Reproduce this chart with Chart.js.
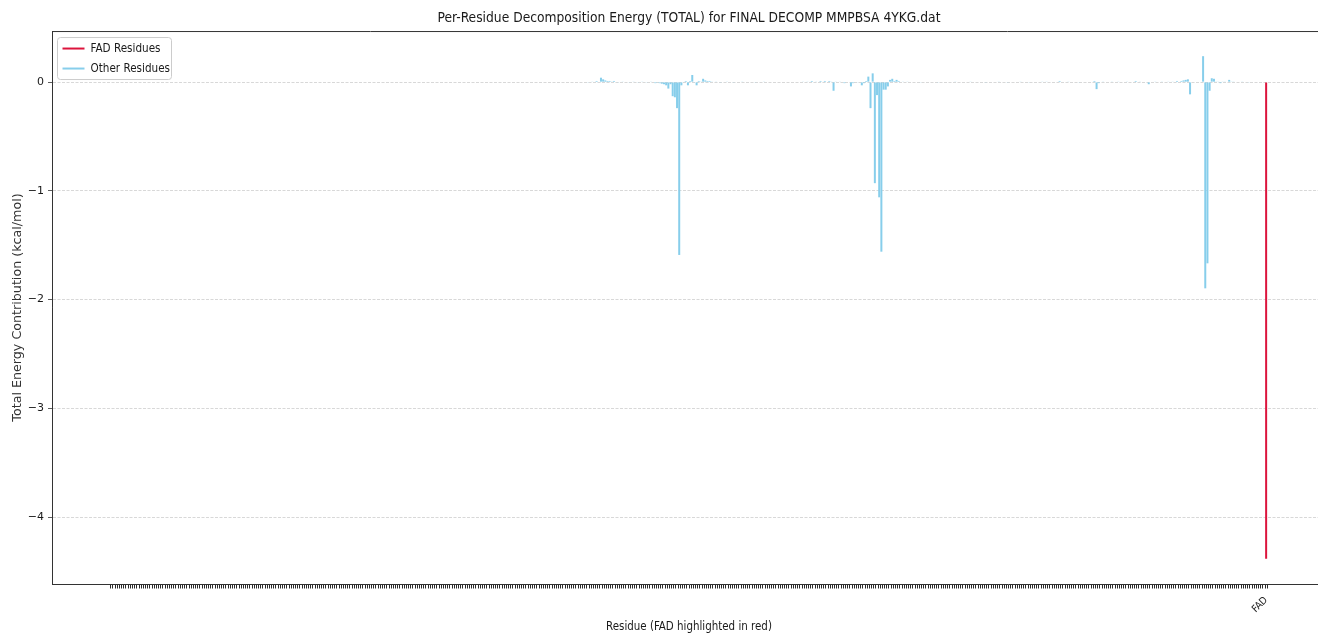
<!DOCTYPE html>
<html>
<head>
<meta charset="utf-8">
<script src="https://cdn.jsdelivr.net/npm/chart.js@4.4.1/dist/chart.umd.min.js"></script>
<style>
  html, body { margin: 0; padding: 0; background: #ffffff; overflow: hidden; }
  #wrap { width: 1318px; height: 634px; overflow: hidden; position: relative; }
  canvas { display: block; }
</style>
</head>
<body>
<div id="wrap"><canvas id="chart" width="1330" height="634"></canvas></div>
<script>
// Per-residue TOTAL decomposition energies (kcal/mol).
// Protein residues are numbered by position 0..proteinCount-1; the ligand (FAD) follows last.
const proteinCount = 531;
const ligandLabel = 'FAD';
const ligandEnergy = [-4.385];

// Residues with a non-zero contribution: position and energy.
const contactIndex = [
  219, 221, 223, 225, 226, 227, 228, 229, 230, 231, 233, 235, 238, 240, 242, 244, 246, 248,
  250, 251, 252, 253, 254, 255, 256, 257, 258, 259, 260, 261, 262, 264, 265, 266, 267, 268,
  269, 270, 271, 272, 273, 274, 275, 276, 278, 280, 283, 286, 290, 296, 300,
  318, 320, 322, 324, 326, 328, 330, 331, 332, 333, 335, 337, 340, 341, 343, 345, 346, 347,
  348, 349, 350, 351, 352, 353, 354, 355, 356, 357, 358, 359, 360, 361, 362, 364, 366,
  372, 380, 388, 395, 402, 408, 412, 418, 422, 428, 430, 436, 440, 445,
  452, 453, 454, 456, 460, 463, 467, 471, 473, 477, 480, 483, 486, 488, 490, 492, 493, 494,
  495, 496, 502, 503, 504, 505, 506, 507, 508, 509, 510, 511, 512, 514, 515, 516, 520, 523
];
const contactEnergy = [
  -0.005, 0.005, 0.01, 0.04, 0.025, 0.015, 0.01, 0.01, 0.005, 0.01, -0.005, 0.005, -0.005, 0.005, -0.005, 0.005, -0.005, 0.005,
  -0.01, -0.005, -0.01, -0.015, -0.02, -0.03, -0.06, -0.02, -0.13, -0.14, -0.24, -1.59, -0.03, 0.01, -0.03, 0.01, 0.065, -0.005,
  -0.03, 0.01, 0.005, 0.03, 0.015, 0.01, 0.01, 0.005, 0.005, -0.005, 0.005, -0.005, 0.005, -0.005, 0.005,
  0.005, 0.005, 0.01, 0.005, 0.01, 0.01, 0.01, 0.005, -0.08, 0.005, 0.005, -0.01, -0.04, -0.01, -0.005, -0.03, -0.01, 0.01,
  0.05, -0.24, 0.08, -0.93, -0.12, -1.06, -1.56, -0.07, -0.07, -0.04, 0.02, 0.03, 0.01, 0.02, 0.01, 0.005, 0.005,
  -0.005, -0.005, 0.005, 0.005, -0.005, 0.005, -0.005, 0.005, -0.005, 0.005, 0.005, 0.01, 0.005, -0.005,
  0.01, -0.065, -0.01, 0.005, 0.005, 0.005, 0.005, 0.01, 0.005, -0.02, 0.005, 0.005, 0.005, 0.005, 0.01, 0.01, 0.015, 0.02,
  0.025, -0.113, 0.238, -1.897, -1.667, -0.08, 0.035, 0.03, 0.005, 0.005, -0.01, 0.005, 0.005, 0.02, 0.005, 0.005, 0.005, -0.005
];

const yTickValues = [-4, -3, -2, -1, 0];

const titleText = 'Per-Residue Decomposition Energy (TOTAL) for FINAL DECOMP MMPBSA 4YKG.dat';
const xTitle = 'Residue (FAD highlighted in red)';
const yTitle = 'Total Energy Contribution (kcal/mol)';
const seriesNames = ['FAD Residues', 'Other Residues'];
const seriesColors = ['#dc143c', '#87ceeb'];

// ---- build datasets ----
const residueCount = proteinCount + ligandEnergy.length;
const energyByIndex = new Map(contactIndex.map((idx, k) => [idx, contactEnergy[k]]));
const otherData = [];
for (let i = 0; i < proteinCount; i++) {
  otherData.push({ x: i, y: energyByIndex.has(i) ? energyByIndex.get(i) : 0 });
}
const fadData = ligandEnergy.map((v, k) => ({ x: proteinCount + k, y: v }));

// Axis limits with 5% padding around the data, like a categorical bar plot.
const halfBar = 0.4;
const span = (residueCount - 1) + 2 * halfBar;
const xMin = -halfBar - 0.05 * span;
const xMax = (residueCount - 1) + halfBar + 0.05 * span;
const allVals = otherData.map(d => d.y).concat(ligandEnergy);
const vMin = Math.min(...allVals), vMax = Math.max(...allVals);
const yMin = vMin - 0.05 * (vMax - vMin);
const yMax = vMax + 0.05 * (vMax - vMin);

const condensed = "'DejaVu Sans Condensed', 'Liberation Sans Narrow', 'DejaVu Sans', sans-serif";
const regular = "'DejaVu Sans', sans-serif";

const fmtMinus = v => (v < 0 ? '\u2212' + Math.abs(v) : String(v));

// Remaining spines (top / right) and the in-axes legend box.
const framePlugin = {
  id: 'frame',
  afterDraw(chart) {
    const { ctx, chartArea: a } = chart;
    ctx.save();
    ctx.strokeStyle = '#333333';
    ctx.lineWidth = 1;
    ctx.beginPath();
    ctx.moveTo(a.left, a.top + 0.5);
    ctx.lineTo(a.right, a.top + 0.5);
    ctx.lineTo(a.right, a.bottom);
    ctx.stroke();

    // legend
    const bx = a.left + 5.5, by = a.top + 6.5, bw = 114, bh = 42, r = 3;
    ctx.beginPath();
    ctx.moveTo(bx + r, by);
    ctx.arcTo(bx + bw, by, bx + bw, by + bh, r);
    ctx.arcTo(bx + bw, by + bh, bx, by + bh, r);
    ctx.arcTo(bx, by + bh, bx, by, r);
    ctx.arcTo(bx, by, bx + bw, by, r);
    ctx.closePath();
    ctx.fillStyle = 'rgba(255,255,255,0.8)';
    ctx.fill();
    ctx.strokeStyle = '#cccccc';
    ctx.lineWidth = 1;
    ctx.stroke();
    ctx.font = '11.6px ' + condensed;
    ctx.textBaseline = 'middle';
    ctx.textAlign = 'left';
    seriesNames.forEach((name, k) => {
      const ly = by + 11 + k * 20;
      ctx.strokeStyle = seriesColors[k];
      ctx.lineWidth = 2;
      ctx.beginPath();
      ctx.moveTo(bx + 5, ly);
      ctx.lineTo(bx + 27, ly);
      ctx.stroke();
      ctx.fillStyle = '#1a1a1a';
      ctx.fillText(name, bx + 33, ly);
    });
    ctx.restore();
  }
};

new Chart(document.getElementById('chart'), {
  type: 'bar',
  data: {
    datasets: [
      { label: seriesNames[0], data: fadData, backgroundColor: seriesColors[0], grouped: false },
      { label: seriesNames[1], data: otherData, backgroundColor: seriesColors[1], grouped: false }
    ]
  },
  options: {
    responsive: false,
    animation: false,
    events: [],
    layout: { padding: { left: 0, right: 4, top: 0, bottom: 0 } },
    datasets: { bar: { barPercentage: 0.92, categoryPercentage: 1.0, borderWidth: 0 } },
    plugins: {
      legend: { display: false },
      tooltip: { enabled: false },
      title: {
        display: true,
        fullSize: false,
        text: titleText,
        color: '#1a1a1a',
        font: { family: condensed, size: 13.7, weight: 'normal' },
        padding: { top: 10, bottom: 4.6 }
      }
    },
    scales: {
      x: {
        type: 'linear',
        min: xMin,
        max: xMax,
        afterBuildTicks: s => { s.ticks = otherData.concat(fadData).map(d => ({ value: d.x })); },
        afterFit: s => { s.height = 50; },
        ticks: {
          autoSkip: false,
          minRotation: 45,
          maxRotation: 45,
          padding: 6,
          color: '#1a1a1a',
          font: { family: condensed, size: 10 },
          callback: v => (v === residueCount - 1 ? ligandLabel : '')
        },
        grid: { drawOnChartArea: false, drawTicks: true, tickLength: 4.5, tickColor: '#2a2a2a', tickWidth: 1 },
        border: { display: true, color: '#333333', width: 1 },
        title: {
          display: true,
          text: xTitle,
          color: '#1a1a1a',
          font: { family: condensed, size: 11.45 },
          padding: { top: 0, bottom: 0 }
        }
      },
      y: {
        type: 'linear',
        min: yMin,
        max: yMax,
        afterBuildTicks: s => { s.ticks = yTickValues.map(v => ({ value: v })); },
        afterFit: s => { s.width = 52; },
        ticks: {
          padding: 4,
          color: '#1a1a1a',
          font: { family: regular, size: 11 },
          callback: v => fmtMinus(v)
        },
        grid: { color: 'rgba(190,190,190,0.75)', lineWidth: 0.8, drawTicks: true, tickLength: 4, tickColor: '#333333', tickWidth: 0.8, tickBorderDash: [] },
        border: { display: true, color: '#333333', width: 1, dash: [3, 1.5] },
        title: {
          display: true,
          text: yTitle,
          color: '#333333',
          font: { family: regular, size: 12.7 },
          padding: { top: 10.4, bottom: 0 }
        }
      }
    }
  },
  plugins: [framePlugin]
});
</script>
</body>
</html>
